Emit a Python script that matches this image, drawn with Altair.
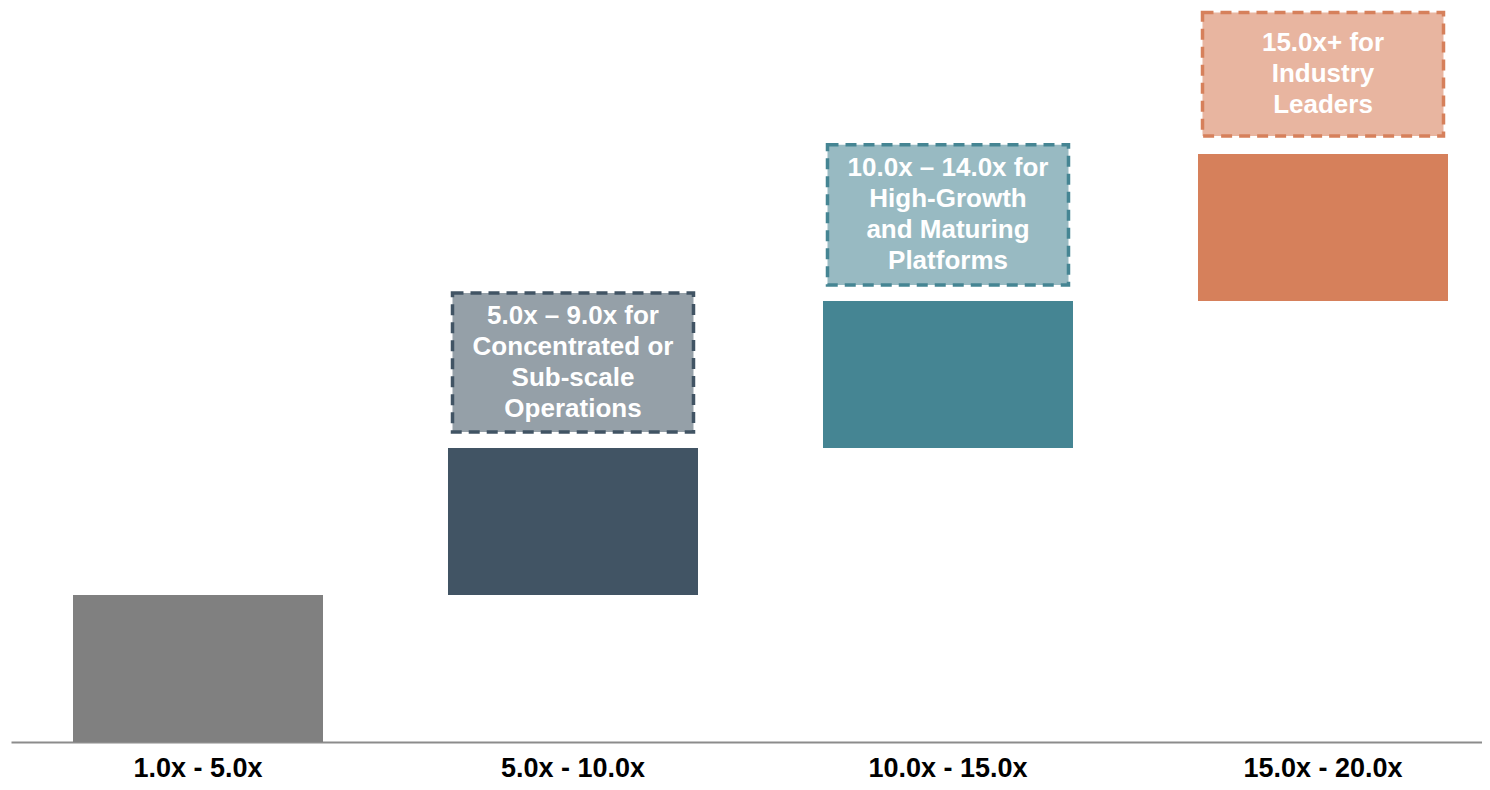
import altair as alt
import pandas as pd

# Bars (floating steps)
categories = ["1.0x - 5.0x", "5.0x - 10.0x", "10.0x - 15.0x", "15.0x - 20.0x"]
bar_low = [0, 1, 2, 3]
bar_high = [1, 2, 3, 4]
bar_colors = ["#808080", "#415464", "#458593", "#D6805B"]

# Dashed annotation boxes
box_categories = ["5.0x - 10.0x", "10.0x - 15.0x", "15.0x - 20.0x"]
box_low = [2.108, 3.108, 4.122]
box_high = [3.055, 4.062, 4.963]
box_fill = ["#95A0A8", "#98BAC2", "#E8B5A0"]
box_stroke = ["#415464", "#458593", "#D6805B"]
box_text = [
    "5.0x \u2013 9.0x for\nConcentrated or\nSub-scale\nOperations",
    "10.0x \u2013 14.0x for\nHigh-Growth\nand Maturing\nPlatforms",
    "15.0x+ for\nIndustry\nLeaders",
]

bars = pd.DataFrame({"cat": categories, "low": bar_low, "high": bar_high, "color": bar_colors})
boxes = pd.DataFrame({"cat": box_categories, "low": box_low, "high": box_high,
                      "fill": box_fill, "stroke": box_stroke, "label": box_text})

FONT = "Liberation Sans"
LINE_H = 31

x_enc = alt.X(
    "cat:N",
    sort=categories,
    title=None,
    scale=alt.Scale(paddingInner=1 / 3, paddingOuter=0.128, align=0.6458, round=False),
    axis=alt.Axis(
        domain=True, domainColor="#8c8c8c", domainWidth=2,
        ticks=False, tickSize=0, grid=False,
        labelFont=FONT, labelFontSize=27, labelFontWeight="bold",
        labelColor="#000000", labelPadding=13, labelAngle=0,
    ),
)
y_scale = alt.Scale(domain=[0, 4.993], nice=False, zero=True)

bar_layer = alt.Chart(bars).mark_bar().encode(
    x=x_enc,
    y=alt.Y("high:Q", scale=y_scale, axis=None),
    y2="low:Q",
    color=alt.Color("color:N", scale=None),
)

box_layer = alt.Chart(boxes).mark_bar(
    width=241, strokeWidth=3.5, strokeDash=[11, 7]
).encode(
    x=alt.X("cat:N", sort=categories),
    y=alt.Y("high:Q", scale=y_scale),
    y2="low:Q",
    fill=alt.Fill("fill:N", scale=None),
    stroke=alt.Stroke("stroke:N", scale=None),
)


def text_layer(n_lines):
    return alt.Chart(boxes).transform_calculate(
        mid="(datum.low + datum.high) / 2",
        n="length(split(datum.label, '\\n'))",
    ).transform_filter(
        f"datum.n == {n_lines}"
    ).mark_text(
        font=FONT, fontSize=26, fontWeight="bold", color="#FFFFFF",
        lineBreak="\n", lineHeight=LINE_H, align="center", baseline="middle",
        dy=-(n_lines - 1) * LINE_H / 2,
    ).encode(
        x=alt.X("cat:N", sort=categories),
        y=alt.Y("mid:Q", scale=y_scale),
        text="label:N",
    )


chart = alt.layer(bar_layer, box_layer, text_layer(4), text_layer(3)).properties(
    width=1471,
    height=734,
    autosize=alt.AutoSizeParams(type="none"),
    padding={"left": 3, "top": 0, "right": 0, "bottom": 40},
    background="#FFFFFF",
).configure_view(strokeWidth=0, stroke="transparent")

chart.save("out.html", embed_options={"renderer": "svg", "actions": False})
